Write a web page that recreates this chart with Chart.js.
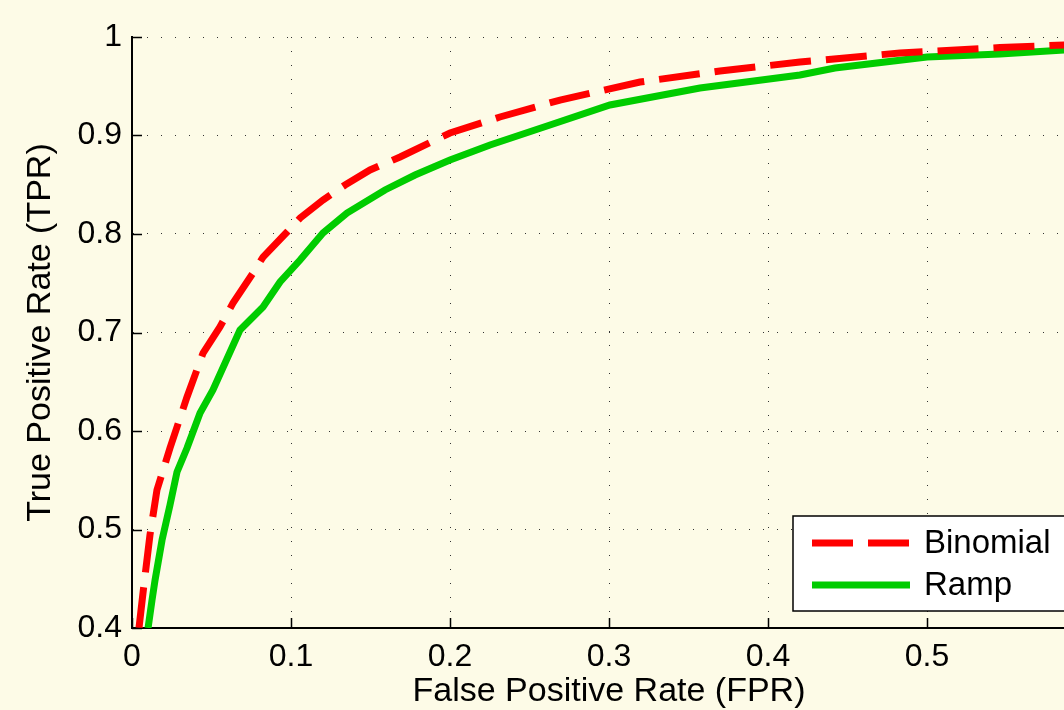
<!DOCTYPE html>
<html>
<head>
<meta charset="utf-8">
<script src="https://cdn.jsdelivr.net/npm/chart.js@4"></script>
<style>
  html, body { margin: 0; padding: 0; overflow: hidden; background: #fdfbe7; }
  canvas { display: block; }
</style>
</head>
<body>
<canvas id="rocChart" width="1120" height="730"></canvas>
<script>
// ROC curve data
const binomialFpr = [0.0044, 0.0075, 0.0113, 0.0157, 0.0239, 0.0346, 0.0447, 0.0553, 0.0635, 0.0761, 0.0824, 0.0975,
  0.1057, 0.1201, 0.1340, 0.1497, 0.1686, 0.2000, 0.2314, 0.2692, 0.3195, 0.3698, 0.4201, 0.4830, 0.5459, 0.5862, 0.6000];
const binomialTpr = [0.400, 0.4437, 0.4944, 0.5401, 0.5827, 0.6345, 0.6792, 0.7056, 0.7299, 0.7604, 0.7766, 0.8020,
  0.8162, 0.8345, 0.8497, 0.8650, 0.8782, 0.9025, 0.9188, 0.9360, 0.9543, 0.9655, 0.9746, 0.9838, 0.9893, 0.9919, 0.9929];

const rampFpr = [0.0101, 0.0126, 0.0145, 0.0189, 0.0239, 0.0283, 0.0346, 0.0428, 0.0509, 0.0679, 0.0824, 0.0931,
  0.1057, 0.1201, 0.1352, 0.1591, 0.1780, 0.2000, 0.2252, 0.2629, 0.3006, 0.3572, 0.4201, 0.4421, 0.5000, 0.5459, 0.5862, 0.6000];
const rampTpr = [0.400, 0.4284, 0.4487, 0.4893, 0.5249, 0.5584, 0.5827, 0.6183, 0.6416, 0.7025, 0.7259, 0.7513,
  0.7736, 0.8010, 0.8213, 0.8447, 0.8599, 0.8751, 0.8904, 0.9107, 0.9310, 0.9482, 0.9614, 0.9685, 0.9797, 0.9827, 0.9868, 0.9883];

const seriesLabels = ['Binomial', 'Ramp'];

// tick values / labels
const xTicks = [0, 0.1, 0.2, 0.3, 0.4, 0.5, 0.6];
const xTickLabels = ['0', '0.1', '0.2', '0.3', '0.4', '0.5', '0.6'];
const yTicks = [0.4, 0.5, 0.6, 0.7, 0.8, 0.9, 1];
const yTickLabels = ['0.4', '0.5', '0.6', '0.7', '0.8', '0.9', '1'];

const FONT = 'Liberation Sans, Arial, Helvetica, sans-serif';
const BG = '#fdfbe7';

const toPoints = (xs, ys) => xs.map((x, i) => ({ x: x, y: ys[i] }));

// background fill
const bgPlugin = {
  id: 'bg',
  beforeDraw(chart) {
    const c = chart.ctx;
    c.save();
    c.fillStyle = BG;
    c.fillRect(0, 0, chart.width, chart.height);
    c.restore();
  }
};

// matlab style tick marks pointing into the plot
const innerTicks = {
  id: 'innerTicks',
  afterDatasetsDraw(chart) {
    const c = chart.ctx;
    const area = chart.chartArea;
    const xs = chart.scales.x, ys = chart.scales.y;
    c.save();
    c.strokeStyle = '#000';
    c.lineWidth = 1.5;
    c.beginPath();
    xs.ticks.forEach((t, i) => {
      const px = Math.round(xs.getPixelForTick(i)) + 0.5;
      c.moveTo(px, area.bottom);
      c.lineTo(px, area.bottom - 10);
    });
    ys.ticks.forEach((t, i) => {
      const py = Math.round(ys.getPixelForTick(i)) + 0.5;
      c.moveTo(area.left, py);
      c.lineTo(area.left + 10, py);
    });
    c.stroke();
    c.restore();
  }
};

// boxed legend in the lower right corner
const boxLegend = {
  id: 'boxLegend',
  afterDraw(chart) {
    const c = chart.ctx;
    const area = chart.chartArea;
    const w = 276, h = 95;
    const right = area.right - 17, bottom = area.bottom - 17;
    const left = right - w, top = bottom - h;
    c.save();
    c.fillStyle = '#ffffff';
    c.fillRect(left, top, w, h);
    c.strokeStyle = '#000';
    c.lineWidth = 1.5;
    c.strokeRect(left, top, w, h);
    const rows = [top + 27, top + 69];
    chart.data.datasets.forEach((ds, i) => {
      const y = rows[i];
      c.beginPath();
      c.strokeStyle = ds.borderColor;
      c.lineWidth = ds.borderWidth;
      c.setLineDash(ds.borderDash || []);
      c.moveTo(left + 19, y);
      c.lineTo(left + 117, y);
      c.stroke();
      c.setLineDash([]);
      c.fillStyle = '#000';
      c.font = '33px ' + FONT;
      c.textBaseline = 'middle';
      c.textAlign = 'left';
      c.fillText(ds.label, left + 131, y + 1);
    });
    c.restore();
  }
};

const ctx = document.getElementById('rocChart').getContext('2d');
const rocChart = new Chart(ctx, {
  type: 'line',
  data: {
    datasets: [
      {
        label: seriesLabels[0],
        data: toPoints(binomialFpr, binomialTpr),
        borderColor: '#ff0000',
        borderWidth: 7,
        borderDash: [41, 15],
        pointRadius: 0,
        tension: 0,
        fill: false
      },
      {
        label: seriesLabels[1],
        data: toPoints(rampFpr, rampTpr),
        borderColor: '#00cc00',
        borderWidth: 7,
        pointRadius: 0,
        tension: 0,
        fill: false
      }
    ]
  },
  options: {
    responsive: false,
    animation: false,
    layout: { padding: { left: 0, top: 37, right: 34, bottom: 0 } },
    plugins: {
      legend: { display: false },
      tooltip: { enabled: false }
    },
    scales: {
      x: {
        type: 'linear',
        min: 0,
        max: 0.6,
        afterBuildTicks(scale) { scale.ticks = xTicks.map(v => ({ value: v })); },
        afterFit(scale) { scale.height = 102; },
        ticks: {
          color: '#000',
          padding: 10,
          maxRotation: 0,
          font: { family: FONT, size: 32 },
          callback: (v, i) => xTickLabels[i]
        },
        grid: { color: '#333', lineWidth: 1, drawTicks: false },
        border: { display: true, color: '#000', width: 2, dash: [1, 13] },
        title: {
          display: true,
          text: 'False Positive Rate (FPR)',
          color: '#000',
          font: { family: FONT, size: 34, lineHeight: 1.2 },
          padding: { top: 0, bottom: 18 }
        }
      },
      y: {
        type: 'linear',
        min: 0.4,
        max: 1,
        afterBuildTicks(scale) { scale.ticks = yTicks.map(v => ({ value: v })); },
        afterFit(scale) { scale.width = 132; },
        ticks: {
          color: '#000',
          padding: 10,
          font: { family: FONT, size: 32 },
          callback: (v, i) => yTickLabels[i]
        },
        grid: { color: '#333', lineWidth: 1, drawTicks: false },
        border: { display: true, color: '#000', width: 2, dash: [1, 13] },
        title: {
          display: true,
          text: 'True Positive Rate (TPR)',
          color: '#000',
          font: { family: FONT, size: 34, lineHeight: 1.2 },
          padding: { top: 20, bottom: 0 }
        }
      }
    }
  },
  plugins: [bgPlugin, innerTicks, boxLegend]
});
</script>
</body>
</html>
